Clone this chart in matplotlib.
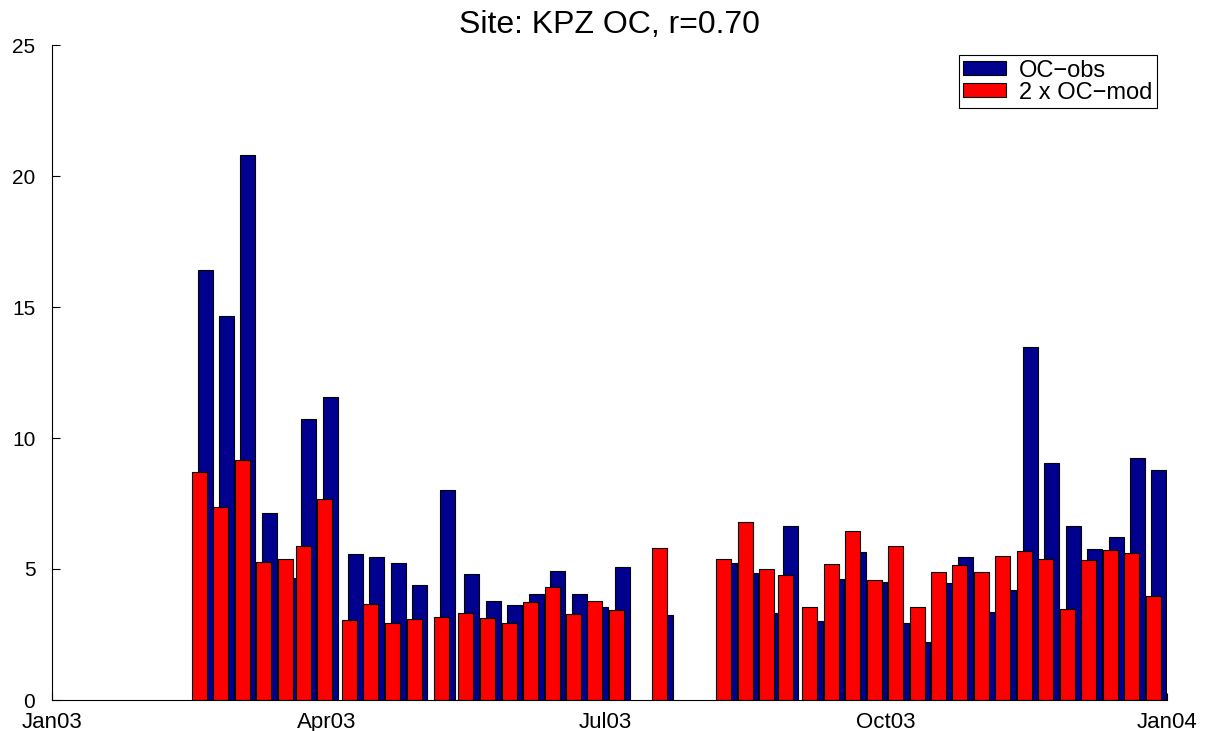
import numpy as np
import matplotlib
matplotlib.use("Agg")
import matplotlib.pyplot as plt


# sample dates as day of year 2003 (0 = 1 Jan 2003)
days = [50.1, 57.1, 64.1, 71.1, 78.2, 84.1, 91.2, 99.2, 106.1, 113.3,
        120.4, 129.4, 137.3, 144.4, 151.5, 158.6, 165.6, 172.6, 179.5, 186.6,
        200.7, 221.8, 228.8, 235.8, 241.9, 249.9, 256.9, 264.0, 271.0, 278.0,
        285.1, 292.1, 299.0, 306.1, 313.1, 320.2, 327.2, 334.3, 341.2, 348.4,
        355.3, 362.3]

# observed OC
ocObs = [16.41, 14.65, 20.82, 7.14, 4.67, 10.74, 11.58, 5.58, 5.45, 5.24,
         4.40, 8.03, 4.82, 3.77, 3.61, 4.06, 4.94, 4.06, 3.54, 5.06,
         3.24, 5.24, 4.83, 3.31, 6.64, 3.02, 4.61, 5.66, 4.49, 2.95,
         2.21, 4.48, 5.45, 3.36, 4.21, 13.46, 9.06, 6.63, 5.75, 6.21,
         9.24, 8.77]

# model OC, already multiplied by 2
ocMod2 = [8.72, 7.37, 9.16, 5.28, 5.39, 5.86, 7.69, 3.05, 3.65, 2.93,
          3.10, 3.16, 3.32, 3.12, 2.93, 3.73, 4.33, 3.30, 3.78, 3.44,
          5.81, 5.38, 6.81, 5.00, 4.77, 3.54, 5.20, 6.46, 4.57, 5.89,
          3.56, 4.89, 5.15, 4.89, 5.48, 5.67, 5.37, 3.46, 5.36, 5.71,
          5.62, 3.98]

tickDays = [0, 90, 181, 273, 365]
tickLabels = ["Jan03", "Apr03", "Jul03", "Oct03", "Jan04"]

siteName = "KPZ"
rValue = 0.70


def main():
    plt.rcParams['font.family'] = ['Liberation Sans', 'DejaVu Sans']

    fig = plt.figure(figsize=(12.05, 7.31), dpi=100)
    ax = fig.add_axes([52 / 1205, 31 / 731, 1115 / 1205, 655 / 731])

    x = np.array(days)
    barWidth = 4.9
    shift = 1.87   # model bars sit a bit left of the obs bars

    ax.bar(x, ocObs, width=barWidth, color=(0, 0, 0.56), edgecolor="black",
           linewidth=0.8, label="OC\u2212obs", zorder=2)
    ax.bar(x - shift, ocMod2, width=barWidth, color=(1, 0, 0), edgecolor="black",
           linewidth=0.8, label="2 x OC\u2212mod", zorder=3)

    ax.set_xlim(0, 365)
    ax.set_ylim(0, 25)
    ax.set_xticks(tickDays)
    ax.set_xticklabels(tickLabels)
    ax.set_yticks([0, 5, 10, 15, 20, 25])

    # matlab look: box off, ticks pointing in
    ax.spines['top'].set_visible(False)
    ax.spines['right'].set_visible(False)
    for s in ['left', 'bottom']:
        ax.spines[s].set_linewidth(0.8)
        ax.spines[s].set_zorder(4)
    ax.tick_params(axis='y', direction='in', length=6, width=0.8, pad=12, labelsize=15)
    ax.tick_params(axis='x', direction='in', length=5, width=0.8, pad=8.5, labelsize=16)

    ax.set_title("Site: %s OC, r=%.2f" % (siteName, rValue), fontsize=23, pad=9)

    leg = ax.legend(loc="upper right", fontsize=17, frameon=True, fancybox=False,
                    edgecolor="black", framealpha=1, borderaxespad=0.42,
                    handlelength=1.8, handleheight=0.55, handletextpad=0.55,
                    borderpad=0.2, labelspacing=0.0)
    leg.get_frame().set_linewidth(0.8)

    fig.savefig("out.png", dpi=100)
    return "done"


print(main())
